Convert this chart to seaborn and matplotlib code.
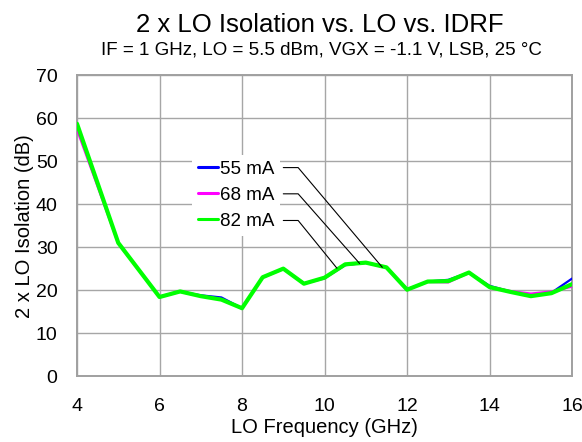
import matplotlib
matplotlib.use("Agg")
import matplotlib.pyplot as plt
import seaborn as sns
import pandas as pd

# LO frequency (GHz)
freq = [4, 5, 6, 6.5, 7, 7.5, 8, 8.5, 9, 9.5, 10, 10.5, 11, 11.5, 12,
        12.5, 13, 13.5, 14, 14.5, 15, 15.5, 16]

# 2 x LO isolation (dB) per IDRF current
iso_55 = [58.5, 31.0, 18.5, 19.7, 18.8, 18.3, 15.8, 23.0, 25.0, 21.6, 22.8, 25.8,
          26.4, 25.2, 20.2, 22.0, 22.4, 24.1, 21.0, 19.7, 18.8, 19.4, 22.7]
iso_68 = [57.3, 30.8, 18.4, 19.6, 18.6, 17.9, 15.7, 22.9, 24.9, 21.5, 22.7, 25.9,
          26.3, 25.3, 20.1, 21.9, 21.8, 24.0, 20.8, 19.8, 19.2, 19.7, 20.8]
iso_82 = [58.7, 31.0, 18.4, 19.7, 18.6, 17.8, 15.8, 23.0, 25.0, 21.5, 22.9, 26.0,
          26.4, 25.3, 20.1, 22.0, 22.1, 24.1, 20.7, 19.6, 18.6, 19.3, 21.4]

labels = ["55 mA", "68 mA", "82 mA"]
colors = ["#0000ff", "#ff00ff", "#00ff00"]
widths = [1.6, 1.6, 3.0]

# leader lines: (legend-side y, point on curve)
leaders = [(48.5, 11.4, 25.3), (42.4, 10.85, 26.2), (36.2, 10.3, 25.1)]

df = pd.concat([
    pd.DataFrame({"freq": freq, "iso": vals, "cur": lab})
    for vals, lab in zip([iso_55, iso_68, iso_82], labels)
])

sns.set_style("white")
plt.rcParams["font.family"] = ["Liberation Sans", "DejaVu Sans"]
plt.rcParams["text.color"] = "black"
plt.rcParams["axes.labelcolor"] = "black"
plt.rcParams["xtick.color"] = "black"
plt.rcParams["ytick.color"] = "black"

fig = plt.figure(figsize=(5.82, 4.42), dpi=100)
ax = fig.add_axes([0.1323, 0.149, 0.8507, 0.681])

for lab, col, lw in zip(labels, colors, widths):
    sns.lineplot(data=df[df["cur"] == lab], x="freq", y="iso", color=col,
                 linewidth=lw, label=lab, ax=ax, zorder=3)

ax.set_xlim(4, 16)
ax.set_ylim(0, 70)
ax.set_xticks(range(4, 17, 2))
ax.set_yticks(range(0, 71, 10))
ax.grid(True, color="#a6a6a6", linewidth=1.0)
for s in ax.spines.values():
    s.set_color("#a0a0a0")
    s.set_linewidth(1.4)
ax.tick_params(labelsize=14, length=0)
ax.tick_params(axis="x", pad=16)
ax.tick_params(axis="y", pad=14)
ax.set_xlabel("LO Frequency (GHz)", fontsize=14.5, labelpad=2)
ax.set_ylabel("2 x LO Isolation (dB)", fontsize=14.5, labelpad=1.5)

fig.text(0.549, 0.928, "2 x LO Isolation vs. LO vs. IDRF", ha="center",
         va="baseline", fontsize=18.5)
fig.text(0.552, 0.877, "IF = 1 GHz, LO = 5.5 dBm, VGX = -1.1 V, LSB, 25 \u00b0C",
         ha="center", va="baseline", fontsize=13.5)

leg = ax.legend(loc="upper left", bbox_to_anchor=(0.233, 0.735), fontsize=13.5,
                frameon=True, fancybox=False, handlelength=1.07, handletextpad=0.1,
                labelspacing=0.48, borderpad=0.3, borderaxespad=0)
leg.get_frame().set_facecolor("white")
leg.get_frame().set_edgecolor("none")
leg.get_frame().set_alpha(1)
leg.set_zorder(4)
for h in leg.get_lines():
    h.set_linewidth(2.2)

for ly, px, py in leaders:
    ax.plot([9.0, 9.36, px], [ly, ly, py], color="black", linewidth=0.8, zorder=5)

fig.savefig("out.png", dpi=100)
